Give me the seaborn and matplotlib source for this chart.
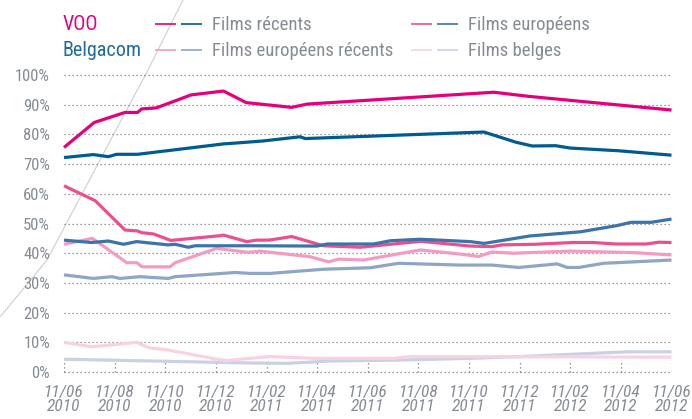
import matplotlib
matplotlib.use("Agg")
import matplotlib.pyplot as plt
from matplotlib import font_manager as fm
from matplotlib.lines import Line2D
import numpy as np
import pandas as pd
import seaborn as sns

# ---- data (x = months since 11/06/2010, y = share in %) ----
operators = ["VOO", "Belgacom"]
categories = ["Films récents", "Films européens", "Films européens récents", "Films belges"]
tick_months = [0, 2, 4, 6, 8, 10, 12, 14, 16, 18, 20, 22, 24]
tick_labels = ["11/06\n2010", "11/08\n2010", "11/10\n2010", "11/12\n2010",
               "11/02\n2011", "11/04\n2011", "11/06\n2011", "11/08\n2011",
               "11/10\n2011", "11/12\n2011", "11/02\n2012", "11/04\n2012", "11/06\n2012"]

voo_recents_x = [0, 1.19, 2.41, 2.91, 3.07, 3.64, 5.02, 6.30, 7.20, 9.0, 9.6, 16.98, 18.37, 24.0]
voo_recents_y = [75.6, 84.0, 87.4, 87.4, 88.6, 88.9, 93.3, 94.6, 90.7, 89.1, 90.2, 94.2, 92.8, 88.2]

bgc_recents_x = [0, 1.16, 1.75, 2.08, 2.91, 6.30, 6.96, 7.88, 9.33, 9.53, 16.59, 17.84, 18.50, 19.42, 20.0, 21.9, 24.0]
bgc_recents_y = [72.2, 73.2, 72.5, 73.3, 73.3, 76.8, 77.2, 77.8, 79.2, 78.6, 80.8, 77.4, 76.1, 76.2, 75.4, 74.5, 73.0]

voo_europ_x = [0, 1.23, 2.41, 2.9, 3.07, 3.53, 4.22, 6.17, 6.30, 7.22, 7.6, 8.1, 9.0, 10.25,
               11.7, 14.1, 16.05, 16.9, 17.3, 18.6, 20.1, 20.9, 21.8, 23.0, 23.5, 24.0]
voo_europ_y = [62.7, 57.7, 47.8, 47.5, 46.9, 46.5, 44.3, 45.9, 46.1, 43.9, 44.4, 44.4, 45.6, 42.5,
               42.0, 44.0, 42.4, 42.2, 42.8, 43.0, 43.6, 43.6, 43.1, 43.1, 43.7, 43.6]

bgc_europ_x = [0, 1.09, 1.75, 2.35, 2.87, 4.12, 4.39, 4.91, 5.18, 7.55, 10.0, 10.4, 12.23, 12.9,
               14.08, 16.05, 16.6, 18.4, 20.4, 21.85, 22.4, 23.2, 24.0]
bgc_europ_y = [44.4, 43.6, 44.1, 43.0, 43.9, 42.8, 43.0, 42.0, 42.5, 42.5, 42.4, 43.1, 43.1, 44.2,
               44.7, 43.9, 43.3, 45.8, 47.2, 49.3, 50.4, 50.4, 51.5]

voo_europ_rec_x = [0, 1.12, 2.48, 2.87, 3.09, 4.19, 4.39, 6.03, 7.28, 7.75, 8.15, 9.73, 10.45,
                   10.85, 11.83, 14.08, 15.66, 16.38, 16.91, 17.77, 20.0, 22.51, 24.0]
voo_europ_rec_y = [43.0, 45.0, 36.8, 36.8, 35.4, 35.4, 36.8, 41.6, 40.3, 40.7, 40.3, 38.8, 37.1,
                   38.0, 37.7, 41.1, 39.7, 38.9, 40.4, 40.0, 40.7, 40.2, 39.4]

bgc_europ_rec_x = [0, 1.16, 1.89, 2.21, 3.0, 4.12, 4.39, 6.76, 7.35, 8.15, 10.25, 12.1, 13.22,
                   15.66, 16.91, 17.96, 19.48, 19.88, 20.34, 21.32, 24.0]
bgc_europ_rec_y = [32.7, 31.5, 32.1, 31.5, 32.1, 31.5, 32.1, 33.5, 33.2, 33.2, 34.6, 35.1, 36.6,
                   36.0, 36.0, 35.2, 36.4, 35.2, 35.2, 36.6, 37.7]

voo_belges_x = [0, 1.09, 1.86, 2.87, 3.33, 4.12, 6.03, 6.43, 6.96, 8.14, 9.85, 13.0, 13.7, 24.0]
voo_belges_y = [10.0, 8.5, 9.1, 10.0, 8.2, 7.4, 4.3, 3.8, 4.3, 5.2, 4.6, 4.6, 5.2, 5.0]

bgc_belges_x = [0, 6.96, 8.8, 10.5, 13.15, 16.05, 18.0, 22.3, 24.0]
bgc_belges_y = [4.3, 3.1, 2.9, 3.7, 4.0, 4.6, 5.2, 6.8, 6.8]

# ---- styles ----
voo_colors = ["#E4007C", "#EA5090", "#F29CC3", "#F8D2E3"]
bgc_colors = ["#005B8F", "#3B74A8", "#8FA5C5", "#C9D1E3"]
voo_label_color = "#E4007C"
bgc_label_color = "#1F6B9F"
text_gray = "#868C93"
grid_gray = "#7A7A7A"

series = [
    ("Belgacom", "Films belges", bgc_belges_x, bgc_belges_y),
    ("VOO", "Films belges", voo_belges_x, voo_belges_y),
    ("Belgacom", "Films européens récents", bgc_europ_rec_x, bgc_europ_rec_y),
    ("VOO", "Films européens récents", voo_europ_rec_x, voo_europ_rec_y),
    ("VOO", "Films européens", voo_europ_x, voo_europ_y),
    ("Belgacom", "Films européens", bgc_europ_x, bgc_europ_y),
    ("Belgacom", "Films récents", bgc_recents_x, bgc_recents_y),
    ("VOO", "Films récents", voo_recents_x, voo_recents_y),
]

rows = []
for op, cat, xs, ys in series:
    for x, y in zip(xs, ys):
        rows.append({"series": f"{op} - {cat}", "month": x, "share": y})
df = pd.DataFrame(rows)

palette = {}
for i, cat in enumerate(categories):
    palette[f"VOO - {cat}"] = voo_colors[i]
    palette[f"Belgacom - {cat}"] = bgc_colors[i]
hue_order = [f"{op} - {cat}" for op, cat, _, _ in series]

# ---- font ----
sns.set_style("white")
names = {f.name for f in fm.fontManager.ttflist}
stretch = "normal"
if "Roboto Condensed" in names:
    FAM = "Roboto Condensed"
elif "Liberation Sans Narrow" in names:
    FAM = "Liberation Sans Narrow"
elif any(f.name == "DejaVu Sans" and str(f.stretch) in ("condensed", "semi-condensed")
         for f in fm.fontManager.ttflist):
    FAM = "DejaVu Sans"
    stretch = "condensed"
else:
    FAM = "Roboto"
plt.rcParams["font.family"] = [FAM, "DejaVu Sans"]
plt.rcParams["font.stretch"] = stretch

W, H = 692, 419
fig = plt.figure(figsize=(W / 100, H / 100), dpi=100)

# axes placement (pixels)
x0_px, x1_px = 64, 671.5
y0_px, y100_px = 372, 75
pad_units = 0.5
ppu = (y0_px - y100_px) / 100.0
bottom_px = y0_px + pad_units * ppu
top_px = y100_px - pad_units * ppu
ax = fig.add_axes([x0_px / W, 1 - bottom_px / H, (x1_px - x0_px) / W, (bottom_px - top_px) / H])
ax.patch.set_alpha(0)

sns.lineplot(data=df, x="month", y="share", hue="series", hue_order=hue_order,
             palette=palette, estimator=None, sort=False, linewidth=2.3,
             legend=False, ax=ax)
for ln in ax.lines:
    ln.set_clip_on(False)
    ln.set_solid_capstyle("butt")
    ln.set_solid_joinstyle("round")

ax.set_xlim(0, 24)
ax.set_ylim(-pad_units, 100 + pad_units)
yt = list(range(0, 101, 10))
ax.set_yticks(yt)
ax.set_yticklabels([f"{v}%" for v in yt])
ax.set_xticks(tick_months)
ax.set_xticklabels(tick_labels, fontstyle="italic", fontsize=12.5, linespacing=0.95)
ax.tick_params(axis="y", length=0, pad=10, labelsize=12, labelcolor=text_gray)
ax.tick_params(axis="x", length=0, pad=8, labelcolor=text_gray)
ax.set_xlabel("")
ax.set_ylabel("")
for s in ax.spines.values():
    s.set_visible(False)

for v in yt:
    ax.axhline(v, color=grid_gray, lw=0.9, linestyle=(0, (1, 2.2)), zorder=0, clip_on=False)
ax.vlines(tick_months, 0, 3.8, colors=grid_gray, lw=0.9, linestyles=(0, (1, 2.2)), zorder=0)

# decorative diagonal stroke
diag_px = [(183, 0), (148, 70), (100, 160), (47, 260), (0, 317)]
fig.add_artist(Line2D([p[0] / W for p in diag_px], [1 - p[1] / H for p in diag_px],
                      transform=fig.transFigure, color="#D3D3D3", lw=0.9, zorder=-1))

# ---- legend (manual) ----
def fx(px):
    return px / W

def fy(py):
    return 1 - py / H

fig.text(fx(63), fy(30), "VOO", color=voo_label_color, fontsize=14.5, va="baseline", ha="left")
fig.text(fx(63), fy(56), "Belgacom", color=bgc_label_color, fontsize=14.5, va="baseline", ha="left")

leg_cols = [155, 411]
leg_rows = [24, 50]
for i, cat in enumerate(categories):
    col, row = i % 2, i // 2
    xs = leg_cols[col]
    yl = leg_rows[row]
    fig.add_artist(Line2D([fx(xs), fx(xs + 21)], [fy(yl), fy(yl)], transform=fig.transFigure,
                          color=voo_colors[i], lw=1.2, solid_capstyle="butt"))
    fig.add_artist(Line2D([fx(xs + 26), fx(xs + 47)], [fy(yl), fy(yl)], transform=fig.transFigure,
                          color=bgc_colors[i], lw=1.2, solid_capstyle="butt"))
    fig.text(fx(xs + 57), fy(yl + 5.5), cat, color=text_gray, fontsize=13.5,
             va="baseline", ha="left")

fig.savefig("out.png", dpi=100)
